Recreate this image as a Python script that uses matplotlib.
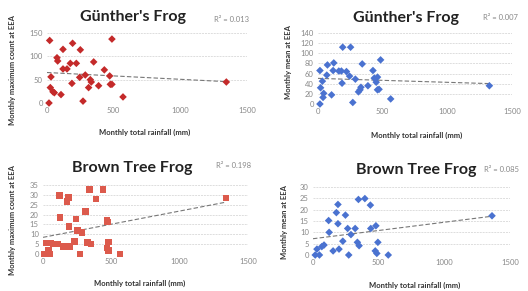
import numpy as np
import matplotlib.pyplot as plt

plt.rcParams['font.family'] = ['Lato', 'DejaVu Sans']

# values
gunther_max_rain = [20, 192, 487, 120, 250, 75, 80, 175, 220, 350, 120, 150, 430, 30, 245, 287,
                    325, 332, 470, 475, 487, 187, 25, 45, 55, 105, 312, 387, 270, 15, 570, 1345]
gunther_max_count = [134, 128, 137, 115, 114, 97, 90, 85, 85, 88, 73, 73, 71, 56, 55, 60,
                     50, 45, 58, 40, 40, 42, 33, 24, 22, 18, 33, 37, 4, 0, 13, 45]

gunther_mean_rain = [191, 252, 484, 342, 73, 122, 15, 117, 161, 181, 220, 68, 244, 289, 186, 425, 435,
                     460, 450, 34, 20, 44, 39, 105, 325, 332, 386, 460, 472, 313, 15, 269, 562, 1325]
gunther_mean_count = [112, 112, 87, 79, 77, 81, 66, 66, 65, 65, 64, 57, 55, 49, 41, 66, 51,
                      53, 43, 45, 32, 21, 13, 18, 28, 33, 36, 28, 29, 24, 0, 3, 10, 36]

brown_max_rain = [340, 438, 122, 187, 175, 389, 311, 126, 243, 467, 472, 190, 253, 285, 24, 54,
                  78, 107, 151, 195, 229, 326, 350, 479, 467, 479, 41, 10, 49, 272, 565, 1338]
brown_max_count = [32.8, 32.8, 29.6, 28.6, 26.6, 27.9, 21.5, 18.5, 17.7, 17.3, 16.2, 14, 11.8, 10.9, 5.6, 5.6,
                   5, 5, 3.9, 3.9, 6.4, 5.9, 5, 6, 3, 1.7, 1.7, 0, 0, 0, 0, 28.3]

brown_mean_rain = [346, 395, 437, 190, 178, 247, 119, 190, 264, 321, 440, 479, 123, 289, 227,
                   338, 351, 494, 84, 67, 30, 153, 198, 474, 486, 17, 49, 272, 573, 1363]
brown_mean_count = [24.5, 24.9, 22, 22.3, 18.7, 17.6, 15.2, 13.8, 11.7, 11.7, 11.7, 12.9, 10, 9, 6.1,
                    5.6, 4.1, 5.6, 4.4, 3.7, 2.6, 1.8, 2.6, 1.8, 0.7, 0, 0, 0, 0, 17.3]

r2_labels = ["R\u00b2 = 0.013", "R\u00b2 = 0.007", "R\u00b2 = 0.198", "R\u00b2 = 0.085"]
titles = ["G\u00fcnther's Frog", "G\u00fcnther's Frog", "Brown Tree Frog", "Brown Tree Frog"]
ylabels = ["Monthly maximum count at EEA", "Monthly mean at EEA",
           "Monthly maximum count at EEA", "Monthly mean at EEA"]
x_ticks = [0, 500, 1000, 1500]

W, H = 528, 291
fig = plt.figure(figsize=(W / 100, H / 100), dpi=100)


def px_axes(x0, x1, ytop, ybot):
    return fig.add_axes([x0 / W, 1 - ybot / H, (x1 - x0) / W, (ybot - ytop) / H])


panels = [
    # rain, count, ymax, ystep, colour, marker, size, axes box px, title pos, r2 pos, ylabel pos, xlabel pos
    (gunther_max_rain, gunther_max_count, 150, 50, "#c42a2a", "D", 15,
     (47, 247, 33, 103), (133, 17), (232, 19), (13, 70), (145, 132)),
    (gunther_mean_rain, gunther_mean_count, 140, 20, "#4a72d0", "D", 15,
     (318, 512, 33, 104), (406, 18), (500, 17), (288, 62), (417, 135)),
    (brown_max_rain, brown_max_count, 35, 5, "#dc5a4c", "s", 22,
     (43, 248, 185, 254), (132, 168), (234, 166), (13, 220), (140, 283)),
    (brown_mean_rain, brown_mean_count, 30, 5, "#4a72d0", "D", 15,
     (313, 510, 187, 255), (416, 170), (502, 170), (285, 222), (415, 285)),
]

for i, (rain, count, ymax, ystep, col, mk, ms, box, tpos, rpos, ylpos, xlpos) in enumerate(panels):
    ax = px_axes(*box)
    rain = np.array(rain, dtype=float)
    count = np.array(count, dtype=float)
    ax.scatter(rain, count, s=ms, marker=mk, color=col, edgecolors="none", zorder=3, clip_on=False)

    # linear trend line like Excel's
    slope, icpt = np.polyfit(rain, count, 1)
    xs = np.array([0, rain.max()])
    ax.plot(xs, icpt + slope * xs, color="#777777", lw=0.8, ls=(0, (4, 2)), zorder=2)

    ax.set_xlim(0, 1500)
    ax.set_ylim(0, ymax)
    ax.set_xticks(x_ticks)
    ax.set_yticks(np.arange(0, ymax + 0.1, ystep))
    ax.tick_params(length=0, labelsize=5.5, labelcolor="#888888", pad=3)
    for s in ax.spines.values():
        s.set_visible(False)
    ax.grid(axis="y", color="#dddddd", lw=0.7, ls=(0, (2, 1)))
    ax.set_axisbelow(True)

    fig.text(tpos[0] / W, 1 - tpos[1] / H, titles[i], ha="center", va="center",
             fontsize=11.5, fontweight="bold", color="#222222")
    fig.text(rpos[0] / W, 1 - rpos[1] / H, r2_labels[i], ha="center", va="center",
             fontsize=5.5, color="#888888")
    fig.text(ylpos[0] / W, 1 - ylpos[1] / H, ylabels[i], ha="center", va="center",
             rotation=90, fontsize=5.5, fontweight="bold", color="#333333")
    fig.text(xlpos[0] / W, 1 - xlpos[1] / H, "Monthly total rainfall (mm)", ha="center",
             va="center", fontsize=5.5, fontweight="bold", color="#333333")

fig.savefig("out.png", dpi=100)
